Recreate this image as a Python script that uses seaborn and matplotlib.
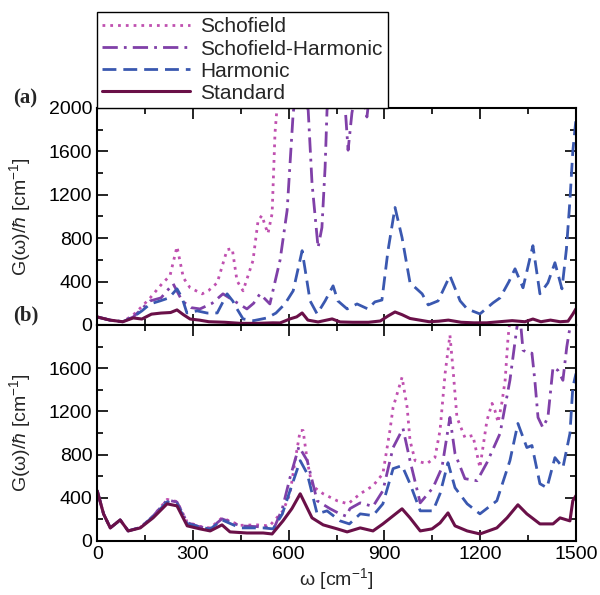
import numpy as np
import pandas as pd
import matplotlib
matplotlib.use("Agg")
import matplotlib.pyplot as plt
from matplotlib.ticker import MultipleLocator
import seaborn as sns

# ---- data (x in cm^-1, y in cm^-1) ----
# panel (a)
std_a_x = [0, 40, 80, 113, 140, 170, 200, 230, 250, 270, 291, 320, 350, 400, 450, 500, 550, 573,
           604, 625, 642, 660, 692, 736, 761, 800, 850, 887, 911, 933, 955, 980, 1010, 1040, 1070,
           1100, 1140, 1180, 1220, 1260, 1300, 1340, 1365, 1390, 1420, 1450, 1475, 1490, 1500]
std_a_y = [74, 45, 30, 65, 55, 100, 110, 115, 139, 95, 55, 45, 30, 25, 15, 15, 20, 19,
           56, 75, 111, 45, 28, 56, 28, 25, 25, 37, 83, 120, 95, 60, 45, 30, 35,
           45, 25, 20, 20, 30, 40, 30, 55, 30, 45, 30, 35, 100, 150]

harm_a_x = [0, 40, 80, 113, 140, 166, 197, 225, 250, 266, 281, 313, 345, 376, 407, 425, 438, 457,
            490, 532, 560, 588, 614, 642, 667, 689, 714, 739, 754, 783, 814, 848, 870, 892, 911,
            933, 955, 980, 1018, 1037, 1068, 1105, 1137, 1159, 1199, 1240, 1262, 1290, 1309, 1334,
            1365, 1387, 1412, 1434, 1456, 1470, 1481, 1490, 1500]
harm_a_y = [74, 45, 30, 74, 130, 194, 222, 250, 333, 250, 111, 130, 110, 111, 287, 220, 148, 56,
            40, 65, 110, 194, 315, 685, 222, 102, 222, 361, 222, 148, 194, 148, 213, 230, 685,
            1083, 806, 389, 287, 185, 222, 454, 222, 148, 102, 204, 250, 400, 518, 343,
            731, 287, 389, 574, 333, 700, 1148, 1600, 1900]

sh_a_x = [0, 40, 80, 113, 140, 166, 200, 238, 266, 294, 322, 360, 394, 430, 469, 490, 510, 541,
          573, 595, 614, 630, 661, 673, 692, 704, 714, 720, 740, 770, 786, 798, 820, 845, 860,
          900, 1200, 1500]
sh_a_y = [74, 45, 30, 74, 150, 222, 250, 380, 222, 160, 148, 200, 287, 220, 148, 200, 287, 194,
          600, 1056, 1954, 2300, 1980, 1306, 713, 898, 1454, 1980, 2300, 2300, 1611, 1954, 2300,
          1917, 2300, 2400, 2400, 2400]

sch_a_x = [0, 40, 80, 113, 140, 166, 203, 228, 250, 270, 291, 329, 350, 376, 407, 423, 438, 457,
           488, 504, 516, 526, 535, 548, 557, 566, 600, 1500]
sch_a_y = [74, 45, 30, 93, 170, 250, 380, 454, 722, 435, 343, 287, 320, 389, 694, 704, 407, 315,
           593, 963, 1009, 917, 843, 1028, 1768, 2100, 2400, 2400]

# panel (b)
std_b_x = [0, 20, 41, 72, 97, 135, 175, 219, 250, 282, 322, 354, 391, 416, 469, 520, 548, 582,
           610, 636, 673, 708, 752, 783, 824, 864, 895, 955, 980, 1012, 1049, 1074, 1099, 1121,
           1159, 1199, 1252, 1284, 1318, 1346, 1387, 1428, 1450, 1481, 1490, 1500]
std_b_y = [465, 250, 121, 195, 93, 121, 214, 344, 325, 140, 112, 93, 149, 84, 74, 74, 65, 186,
           300, 437, 214, 149, 112, 84, 121, 93, 158, 298, 214, 93, 112, 167, 260, 140,
           93, 65, 121, 214, 335, 251, 158, 158, 214, 186, 372, 420]

harm_b_x = [0, 20, 41, 72, 97, 135, 175, 219, 250, 282, 322, 354, 391, 448, 520, 551, 580, 604,
            636, 658, 689, 720, 761, 790, 824, 864, 895, 927, 955, 980, 1012, 1052, 1074, 1099,
            1121, 1159, 1199, 1252, 1293, 1318, 1346, 1362, 1387, 1409, 1434, 1459, 1481, 1490, 1500]
harm_b_y = [465, 250, 121, 195, 93, 125, 225, 363, 345, 160, 130, 110, 195, 121, 121, 112, 250, 465,
            744, 623, 251, 279, 186, 158, 251, 235, 344, 670, 698, 530, 279, 279, 437, 725,
            493, 344, 251, 372, 744, 1088, 865, 884, 530, 493, 772, 679, 995, 1423, 1550]

sh_b_x = [0, 20, 41, 72, 97, 135, 175, 219, 250, 282, 322, 354, 391, 448, 520, 555, 580, 604,
          632, 658, 689, 730, 761, 780, 792, 824, 864, 895, 927, 958, 980, 1012, 1052, 1080, 1105,
          1121, 1152, 1190, 1221, 1262, 1293, 1315, 1324, 1334, 1349, 1362, 1371, 1381, 1396,
          1412, 1428, 1443, 1459, 1471, 1478, 1490, 1500]
sh_b_y = [465, 250, 121, 195, 93, 125, 230, 380, 360, 170, 130, 115, 205, 140, 130, 125, 300, 586,
          874, 744, 372, 298, 250, 230, 300, 353, 320, 465, 865, 1042, 744, 353, 493, 679, 1144,
          809, 577, 558, 725, 995, 1488, 1981, 2100, 1767, 1739, 1739, 1488, 1144, 1051,
          1144, 1609, 1581, 1488, 1795, 1925, 2100, 2200]

sch_b_x = [0, 20, 41, 72, 97, 135, 175, 219, 250, 282, 322, 354, 391, 448, 501, 540, 582, 604,
           620, 636, 645, 658, 673, 708, 752, 786, 824, 864, 895, 917, 927, 955, 971, 980, 996,
           1033, 1058, 1074, 1090, 1105, 1115, 1127, 1152, 1177, 1199, 1221, 1237, 1246, 1256,
           1268, 1278, 1287, 1295, 1350, 1500]
sch_b_y = [465, 250, 121, 195, 93, 125, 230, 385, 365, 175, 135, 120, 214, 145, 149, 140, 279, 437,
           744, 1023, 1023, 744, 511, 437, 372, 344, 437, 511, 623, 1023, 1237, 1516, 1237, 930, 744,
           716, 772, 1023, 1553, 1906, 1581, 1144, 958, 977, 679, 1116, 1274, 1209, 1098,
           1284, 1488, 1879, 2100, 2400, 2400]

labels = ["Schofield", "Schofield-Harmonic", "Harmonic", "Standard"]
colors = ["#C050B0", "#8040A8", "#3A58B0", "#6A1048"]
styles = [(0, (1, 1.8)), (0, (5.5, 2.2, 1, 2.2)), (0, (5, 2.5)), "-"]
widths = [2.0, 2.0, 2.0, 2.2]

panel_a = [(sch_a_x, sch_a_y), (sh_a_x, sh_a_y), (harm_a_x, harm_a_y), (std_a_x, std_a_y)]
panel_b = [(sch_b_x, sch_b_y), (sh_b_x, sh_b_y), (harm_b_x, harm_b_y), (std_b_x, std_b_y)]

sns.set_style("ticks")
plt.rcParams["font.family"] = ["Liberation Sans", "DejaVu Sans"]
plt.rcParams["mathtext.fontset"] = "custom"
plt.rcParams["mathtext.rm"] = "Liberation Sans"
plt.rcParams["mathtext.it"] = "Liberation Sans:italic"

fig = plt.figure(figsize=(6, 5.95), dpi=100)
ax_a = fig.add_axes([0.162, 0.4538, 0.798, 0.3647])
ax_b = fig.add_axes([0.162, 0.0908, 0.798, 0.363], sharex=ax_a)

for ax, panel in [(ax_a, panel_a), (ax_b, panel_b)]:
    for (xs, ys), lab, col, ls, lw in zip(panel, labels, colors, styles, widths):
        df = pd.DataFrame({"w": xs, "G": ys})
        sns.lineplot(data=df, x="w", y="G", ax=ax, color=col, lw=lw,
                     sort=False, estimator=None, label=lab)
        ax.lines[-1].set_linestyle(ls)
    ax.get_legend().remove()
    ax.set_xlim(0, 1500)
    ax.set_ylim(0, 2000)
    ax.xaxis.set_major_locator(MultipleLocator(300))
    ax.xaxis.set_minor_locator(MultipleLocator(150))
    ax.yaxis.set_minor_locator(MultipleLocator(200))
    ax.tick_params(which="both", direction="in", top=True, right=True,
                   labelsize=14, width=1.2, colors="black")
    ax.tick_params(which="major", length=8)
    ax.tick_params(which="minor", length=4)
    for s in ax.spines.values():
        s.set_linewidth(1.5)
        s.set_color("black")
    ax.set_ylabel(r"G(ω)/$\hbar$ [cm$^{-1}$]", fontsize=14)
    ax.yaxis.set_label_coords(-0.135, 0.5)

ax_a.set_yticks([0, 400, 800, 1200, 1600, 2000])
ax_b.set_yticks([0, 400, 800, 1200, 1600])
ax_b.yaxis.set_minor_locator(MultipleLocator(200))
ax_a.tick_params(labelbottom=False)
ax_a.set_xlabel("")
ax_b.set_xlabel(r"ω [cm$^{-1}$]", fontsize=14, labelpad=2)

handles, labs = ax_a.get_legend_handles_labels()
leg = fig.legend(handles, labs, loc="lower left", bbox_to_anchor=(0.162, 0.8185),
                 fontsize=15, frameon=True, fancybox=False, framealpha=1,
                 edgecolor="black", handlelength=4.2, handletextpad=0.5,
                 labelspacing=0.15, borderpad=0.25, borderaxespad=0)
leg.get_frame().set_linewidth(1.0)

fig.text(0.022, 0.834, "(a)", fontsize=15, fontweight="bold",
         family="Liberation Serif", va="center")
fig.text(0.022, 0.469, "(b)", fontsize=15, fontweight="bold",
         family="Liberation Serif", va="center")

fig.savefig("out.png", dpi=100)
